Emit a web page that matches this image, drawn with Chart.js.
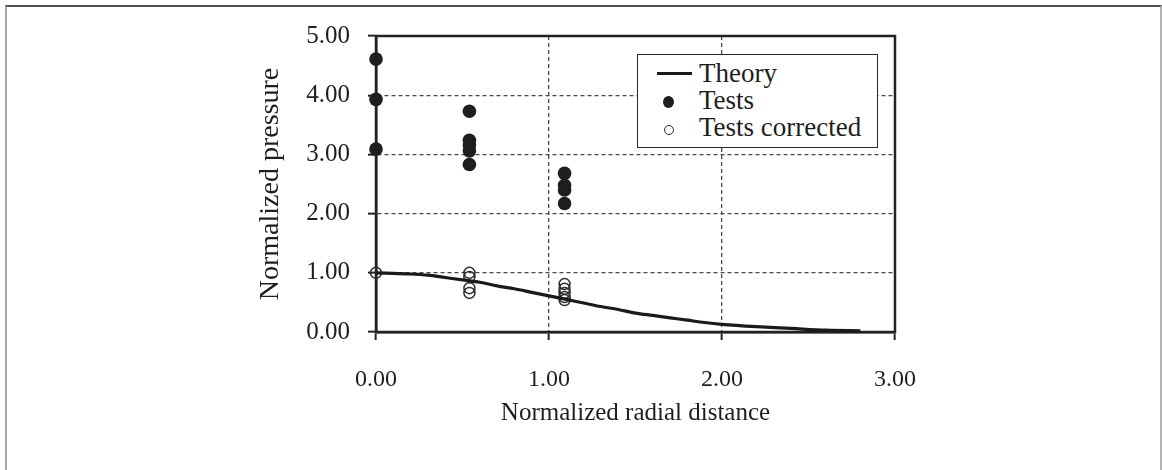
<!DOCTYPE html>
<html>
<head>
<meta charset="utf-8">
<script src="https://cdn.jsdelivr.net/npm/chart.js@4.4.1/dist/chart.umd.min.js"></script>
<style>
  html, body { margin: 0; padding: 0; background: #fff; }
  #wrap { position: relative; width: 1162px; height: 470px; overflow: hidden; }
  #frame {
    position: absolute; left: 5px; top: 5px; width: 1153px; height: 480px;
    border-top: 2px solid #4e4e4e; border-left: 2px solid #a6a6a6; border-right: 2px solid #b4b4b4;
  }
  #chart { position: absolute; left: 0; top: 0; }
  #legend {
    position: absolute; left: 637px; top: 54px; width: 241px; height: 94px;
    box-sizing: border-box; border: 1.5px solid #2a2a2a; background: #fff;
    font-family: 'Liberation Serif', 'Times New Roman', serif; font-size: 27px; color: #1e1e1e;
  }
  .row { position: absolute; left: 0; height: 27px; line-height: 27px; width: 100%; }
  .row .txt { position: absolute; left: 61px; top: 0; white-space: nowrap; }
  .row .mk { position: absolute; box-sizing: border-box; }
</style>
</head>
<body>
<div id="wrap">
  <div id="frame"></div>
  <canvas id="chart" width="1162" height="470"></canvas>
  <div id="legend"></div>
</div>
<script>
// Theory curve: normalized radial distance vs normalized pressure
const theoryR = [0, 0.1, 0.2, 0.3, 0.4, 0.5, 0.6, 0.7, 0.8, 0.9, 1.0, 1.1, 1.2, 1.3, 1.4, 1.5, 1.6, 1.7, 1.8, 1.9, 2.0, 2.2, 2.4, 2.6, 2.8];
const theoryP = [1.00, 0.99, 0.98, 0.96, 0.92, 0.88, 0.84, 0.78, 0.73, 0.67, 0.61, 0.55, 0.49, 0.43, 0.38, 0.32, 0.28, 0.24, 0.20, 0.16, 0.13, 0.09, 0.06, 0.03, 0.02];

// Measured pressures
const testsR = [0, 0, 0, 0.54, 0.54, 0.54, 0.54, 0.54, 1.09, 1.09, 1.09, 1.09];
const testsP = [4.61, 3.93, 3.09, 3.73, 3.24, 3.16, 3.06, 2.83, 2.68, 2.48, 2.40, 2.17];

// Measured pressures after correction
const correctedR = [0, 0.54, 0.54, 0.54, 0.54, 1.09, 1.09, 1.09, 1.09, 1.09];
const correctedP = [1.00, 1.00, 0.93, 0.74, 0.66, 0.81, 0.73, 0.66, 0.59, 0.54];

// Axis ticks
const xTickValues = [0, 1, 2, 3];
const yTickValues = [0, 1, 2, 3, 4, 5];

const serif = "'Liberation Serif', 'Times New Roman', serif";
const ink = '#1e1e1e';
const pts = (xs, ys) => xs.map((x, i) => ({ x: x, y: ys[i] }));

// Solid frame around the plotting area (top and right sides have no axis)
const plotFrame = {
  id: 'plotFrame',
  beforeDatasetsDraw(chart) {
    const { ctx, chartArea: a } = chart;
    ctx.save();
    ctx.strokeStyle = '#222';
    ctx.lineWidth = 2.5;
    ctx.strokeRect(a.left, a.top, a.right - a.left, a.bottom - a.top);
    ctx.restore();
  }
};

const chart = new Chart(document.getElementById('chart'), {
  type: 'scatter',
  data: {
    datasets: [
      {
        label: 'Theory',
        data: pts(theoryR, theoryP),
        showLine: true,
        borderColor: '#1a1a1a',
        borderWidth: 3.2,
        pointRadius: 0,
        cubicInterpolationMode: 'monotone',
        clip: false,
        legendMark: 'line'
      },
      {
        label: 'Tests',
        data: pts(testsR, testsP),
        pointRadius: 6.8,
        backgroundColor: '#1e1e1e',
        borderColor: '#1e1e1e',
        borderWidth: 0,
        clip: false,
        legendMark: 'dot'
      },
      {
        label: 'Tests corrected',
        data: pts(correctedR, correctedP),
        pointRadius: 5.5,
        backgroundColor: 'rgba(255,255,255,0)',
        borderColor: '#2a2a2a',
        borderWidth: 1.5,
        clip: false,
        legendMark: 'circle'
      }
    ]
  },
  options: {
    responsive: false,
    animation: false,
    devicePixelRatio: 1,
    layout: { padding: { left: 254, top: 36, right: 267, bottom: 42 } },
    plugins: { legend: { display: false }, tooltip: { enabled: false } },
    scales: {
      x: {
        type: 'linear', min: 0, max: 3,
        afterBuildTicks: s => { s.ticks = xTickValues.map(v => ({ value: v })); },
        afterFit: s => { s.height = 96; },
        ticks: {
          callback: v => Number(v).toFixed(2),
          font: { family: serif, size: 24 }, color: ink,
          padding: 25, maxRotation: 0, autoSkip: false
        },
        grid: {
          color: c => (c.tick && (c.tick.value === 0 || c.tick.value === 3)) ? 'rgba(0,0,0,0)' : '#4a4a4a',
          lineWidth: 1.3, tickLength: 8, tickColor: '#222', tickWidth: 2
        },
        border: { display: true, dash: [4, 3], color: '#222', width: 2.5 },
        title: {
          display: true, text: 'Normalized radial distance',
          font: { family: serif, size: 25 }, color: ink, padding: 0
        }
      },
      y: {
        type: 'linear', min: 0, max: 5,
        afterBuildTicks: s => { s.ticks = yTickValues.map(v => ({ value: v })); },
        afterFit: s => { s.width = 122; },
        ticks: {
          callback: v => Number(v).toFixed(2),
          font: { family: serif, size: 25 }, color: ink,
          padding: 18, autoSkip: false
        },
        grid: {
          color: c => (c.tick && (c.tick.value === 0 || c.tick.value === 5)) ? 'rgba(0,0,0,0)' : '#4a4a4a',
          lineWidth: 1.3, tickLength: 8, tickColor: '#222', tickWidth: 2
        },
        border: { display: true, dash: [4, 3], color: '#222', width: 2.5 },
        title: {
          display: true, text: 'Normalized pressure',
          font: { family: serif, size: 28 }, color: ink, padding: 0
        }
      }
    }
  },
  plugins: [plotFrame]
});

// Boxed legend built from the datasets
(function buildLegend() {
  const box = document.getElementById('legend');
  chart.data.datasets.forEach((ds, i) => {
    const row = document.createElement('div');
    row.className = 'row';
    row.style.top = (5 + 27 * i) + 'px';
    const mk = document.createElement('span');
    mk.className = 'mk';
    if (ds.legendMark === 'line') {
      Object.assign(mk.style, { left: '19px', top: '12px', width: '35px', height: '3px', background: ds.borderColor });
    } else if (ds.legendMark === 'dot') {
      Object.assign(mk.style, { left: '25px', top: '9px', width: '11px', height: '12px', borderRadius: '50%', background: ds.backgroundColor });
    } else {
      Object.assign(mk.style, { left: '26px', top: '11px', width: '10px', height: '10px', borderRadius: '50%', border: '1.5px solid ' + ds.borderColor, background: '#fff' });
    }
    const txt = document.createElement('span');
    txt.className = 'txt';
    txt.textContent = ds.label;
    row.appendChild(mk);
    row.appendChild(txt);
    box.appendChild(row);
  });
})();
</script>
</body>
</html>
